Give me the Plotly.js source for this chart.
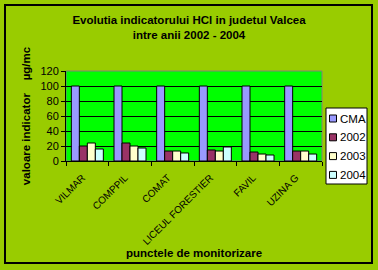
<!DOCTYPE html>
<html><head><meta charset="utf-8">
<script src="https://cdn.plot.ly/plotly-3.0.1.min.js"></script>
<style>body{margin:0;padding:0;background:#fff}#c{width:378px;height:270px}</style>
</head><body><div id="c"></div>
<script>
const categories = ["VILMAR", "COMPPIL", "COMAT", "LICEUL FORESTIER", "FAVIL", "UZINA G"];
const seriesNames = ["CMA", "2002", "2003", "2004"];
const cma = [100, 100, 100, 100, 100, 100];
const v2002 = [20, 24, 13.3, 14.7, 12, 13.3];
const v2003 = [24, 20, 13.3, 13.3, 9.3, 13.3];
const v2004 = [16, 17.3, 10.7, 18.7, 8, 9.3];
const colors = ["#9999FF", "#993366", "#FFFFCC", "#CCFFFF"];
const yTicks = [0, 20, 40, 60, 80, 100, 120];

const allVals = [cma, v2002, v2003, v2004];
const F = "Liberation Sans, Arial, sans-serif";
const traces = allVals.map((v, i) => ({
  type: "bar", name: seriesNames[i], x: categories, y: v,
  marker: {color: colors[i], line: {color: "#000", width: 1}}
}));

// plot area in pixels: l=66, r=322, t=71, b=161
const L = 66, W = 256, B = 161, H = 90;
const px = x => (x - L) / W, py = y => (B - y) / H;

const shapes = [
  {type: "rect", xref: "paper", yref: "paper", x0: 0, x1: 1, y0: 0, y1: 1,
   line: {color: "#808080", width: 1}, layer: "below"},
  {type: "rect", xref: "paper", yref: "paper", x0: px(5), x1: px(372), y0: py(5), y1: py(263),
   line: {color: "#000", width: 2}},
  {type: "rect", xref: "paper", yref: "paper", x0: px(326), x1: px(367), y0: py(108), y1: py(184),
   fillcolor: "#fff", line: {color: "#000", width: 1}}
];
const annotations = [
  {xref: "paper", yref: "paper", x: 0.5, y: py(253), xanchor: "center", yanchor: "middle",
   text: "<b>punctele de monitorizare</b>", showarrow: false, font: {family: F, size: 11.5, color: "#000"}}
];
seriesNames.forEach((n, i) => {
  const cy = 118.5 + i * 18.8;
  shapes.push({type: "rect", xref: "paper", yref: "paper", x0: px(329.5), x1: px(336.5),
    y0: py(cy + 3.5), y1: py(cy - 3.5), fillcolor: colors[i], line: {color: "#000", width: 1}});
  annotations.push({xref: "paper", yref: "paper", x: px(338), y: py(cy), xanchor: "left",
    yanchor: "middle", text: n, showarrow: false, font: {family: F, size: 11.5, color: "#000"}});
});

const layout = {
  width: 378, height: 270,
  paper_bgcolor: "#99CC00", plot_bgcolor: "#00FF00",
  margin: {l: 66, r: 56, t: 71, b: 109},
  font: {family: F, size: 11, color: "#000"},
  title: {text: "<b>Evolutia indicatorului HCl in judetul Valcea<br>intre anii 2002 - 2004</b>",
          font: {family: F, size: 11.5, color: "#000"}, x: 0.5, xanchor: "center", y: 0.912, yanchor: "top"},
  bargap: 0.25, bargroupgap: 0, barmode: "group",
  showlegend: false,
  xaxis: {type: "category", tickangle: -45, tickfont: {family: F, size: 10},
          showline: true, linecolor: "#000", linewidth: 1, ticks: "outside", ticklen: 4,
          tickcolor: "#000", tickson: "boundaries", showgrid: false, automargin: false,
          ticklabelstandoff: 6, ticklabelshift: -5},
  yaxis: {range: [0, 120], tickvals: yTicks, ticktext: yTicks.map(String),
          tickfont: {family: F, size: 11}, showgrid: true, gridcolor: "#000", gridwidth: 1,
          showline: true, linecolor: "#000", ticks: "outside", ticklen: 4, tickcolor: "#000",
          automargin: false, zeroline: false,
          title: {text: "<b>valoare indicator    µg/mc</b>", font: {family: F, size: 11.5}, standoff: 7}},
  shapes: shapes,
  annotations: annotations
};
Plotly.newPlot("c", traces, layout, {staticPlot: true});
</script></body></html>
